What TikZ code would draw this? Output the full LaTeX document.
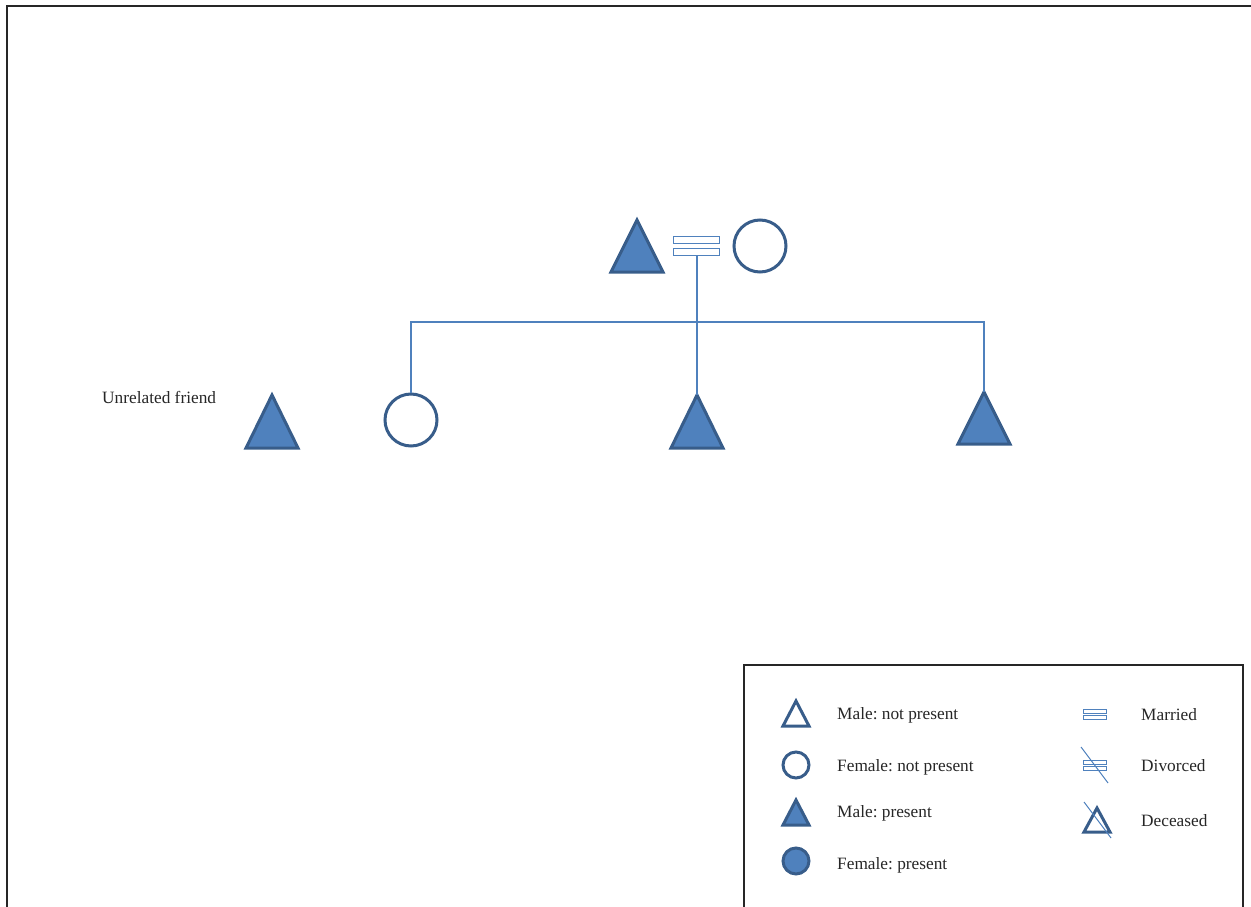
\documentclass[tikz,border=0pt]{standalone}
\usepackage{fontspec}
\setmainfont{Liberation Serif}
\frenchspacing
\definecolor{fillblue}{HTML}{4F81BD}
\definecolor{edgeblue}{HTML}{385D8A}
\definecolor{frame}{HTML}{262626}
\tikzset{
  malesym/.style={draw=edgeblue, line width=3pt, line join=miter, fill=fillblue},
  maleopen/.style={draw=edgeblue, line width=3pt, line join=miter, fill=white},
  femsym/.style={draw=edgeblue, line width=3pt, fill=fillblue},
  femopen/.style={draw=edgeblue, line width=3pt, fill=white},
  link/.style={draw=fillblue, line width=1.5pt},
  marr/.style={draw=fillblue, line width=1pt, fill=white},
  lbl/.style={font=\fontsize{17.3}{20}\selectfont, anchor=west, inner sep=0pt, text=frame},
}
\begin{document}
\begin{tikzpicture}[x=1pt,y=-1pt]
\useasboundingbox (0,0) rectangle (1251,907);
% frame
\draw[frame, line width=2pt] (7,907) -- (7,6) -- (1252,6);
% parents
\coordinate (father) at (637,246);
\draw[malesym] (611,272) -- (637,220) -- (663,272) -- cycle;
\draw[marr] (673,236) rectangle (719,243);
\draw[marr] (673,248) rectangle (719,255);
\coordinate (marrbot) at (697,255);
\node[femopen, circle, minimum size=52pt, inner sep=0pt] (mother) at (760,246) {};
% children
\node[femopen, circle, minimum size=52pt, inner sep=0pt] (daughter) at (411,420) {};
\coordinate (son1top) at (697,395);
\draw[malesym] (671,448) -- (697,395) -- (723,448) -- cycle;
\coordinate (son2top) at (984,392);
\draw[malesym] (958,444) -- (984,392) -- (1010,444) -- cycle;
\coordinate (sib) at (697,322);
\draw[link] (daughter.north) |- (sib) -| (son2top);
\draw[link] (marrbot) -- (son1top);
% friend
\draw[malesym] (246,448) -- (272,395) -- (298,448) -- cycle;
\node[lbl] (friendlbl) at (102,397) {Unrelated friend};
% legend
\draw[frame, line width=1.2pt] (744,907) -- (744,665) -- (1243,665) -- (1243,907);
\draw[maleopen] (783,726) -- (796,701) -- (809,726) -- cycle;
\node[lbl] (l1) at (837,715) {Male: not present};
\node[femopen, circle, minimum size=26pt, inner sep=0pt] (c1) at (796,765) {};
\node[lbl] (l2) at (837,767) {Female: not present};
\draw[malesym] (783,825) -- (796,800) -- (809,825) -- cycle;
\node[lbl] (l3) at (837,813) {Male: present};
\node[femsym, circle, minimum size=26pt, inner sep=0pt] (c2) at (796,861) {};
\node[lbl] (l4) at (837,865) {Female: present};
\draw[marr, line width=1pt] (1083,709) rectangle (1106,713);
\draw[marr, line width=1pt] (1083,715) rectangle (1106,719);
\node[lbl] (l5) at (1141,715) {Married};
\draw[marr, line width=1pt] (1083,760) rectangle (1106,764);
\draw[marr, line width=1pt] (1083,766) rectangle (1106,770);
\draw[link, line width=1pt] (1081,747) -- (1108,783);
\node[lbl] (l6) at (1141,766) {Divorced};
\draw[maleopen] (1084,832) -- (1097,808) -- (1110,832) -- cycle;
\draw[link, line width=1pt] (1084,802) -- (1111,838);
\node[lbl] (l7) at (1141,821) {Deceased};
\end{tikzpicture}
\end{document}
